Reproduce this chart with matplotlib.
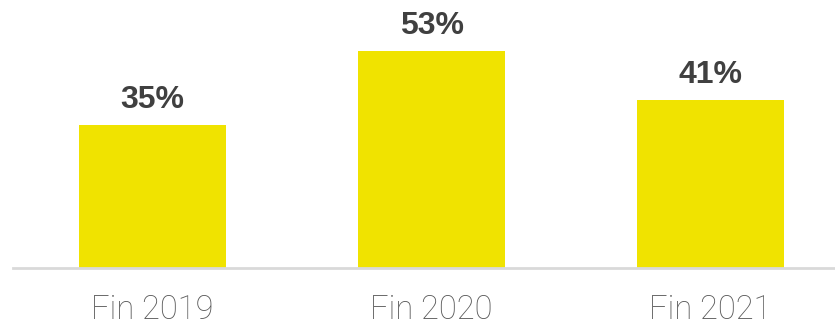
import matplotlib
matplotlib.use("Agg")
import matplotlib.pyplot as plt

categories = ["Fin 2019", "Fin 2020", "Fin 2021"]
values = [35, 53, 41]
value_labels = ["35%", "53%", "41%"]

W, H = 835, 322
fig = plt.figure(figsize=(W / 100, H / 100), dpi=100)
ax = fig.add_axes([13 / W, 54 / H, 822 / W, 268 / H])

x = list(range(len(categories)))
ax.bar(x, values, width=0.527, color="#F0E300", zorder=2)
ax.set_xlim(-0.5, 2.446)
ax.set_ylim(0, 65.46)

for xi, v, lab in zip(x, values, value_labels):
    ax.annotate(lab, (xi, v), xytext=(0, 10), textcoords="offset pixels",
                ha="center", va="bottom", fontsize=23, fontweight="bold",
                color="#404040", family=["Liberation Sans", "DejaVu Sans"])

for s in ["top", "right", "left"]:
    ax.spines[s].set_visible(False)
ax.spines["bottom"].set_color("#D9D9D9")
ax.spines["bottom"].set_linewidth(2)
ax.set_yticks([])
ax.set_xticks(x)
ax.set_xticklabels(categories, fontsize=23.5, color="#595959",
                   family=["Roboto", "DejaVu Sans"], fontweight="light")
ax.tick_params(axis="x", length=0, pad=19)

fig.savefig("out.png", dpi=100)
